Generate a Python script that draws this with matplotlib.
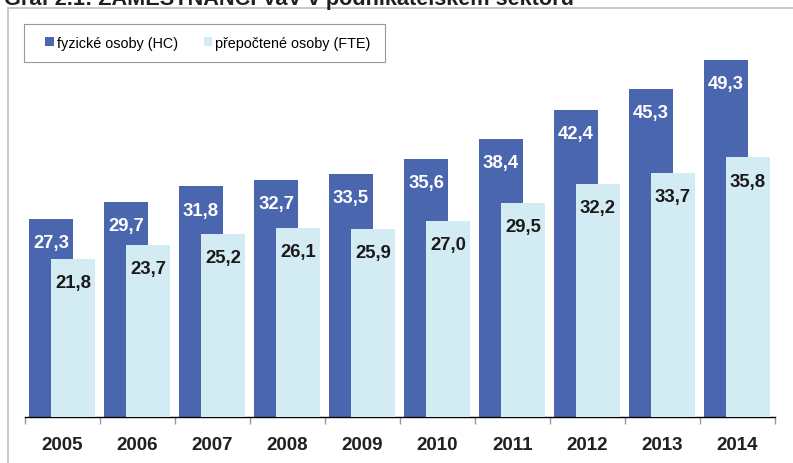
import matplotlib
matplotlib.use("Agg")
import numpy as np
import matplotlib.pyplot as plt
from matplotlib.lines import Line2D
from matplotlib.patches import Rectangle

plt.rcParams["font.family"] = ["Liberation Sans", "DejaVu Sans"]

TITLE = "Graf 2.1: ZAMĚSTNANCI VaV v podnikatelském sektoru"
YEARS = ["2005", "2006", "2007", "2008", "2009", "2010", "2011", "2012", "2013", "2014"]
HC = [27.3, 29.7, 31.8, 32.7, 33.5, 35.6, 38.4, 42.4, 45.3, 49.3]
FTE = [21.8, 23.7, 25.2, 26.1, 25.9, 27.0, 29.5, 32.2, 33.7, 35.8]
HC_LABEL = "fyzické osoby (HC)"
FTE_LABEL = "přepočtené osoby (FTE)"

BLUE = "#4A66AF"
LIGHT = "#D3ECF3"
W, H = 793, 464


def fmt(v):
    return f"{v:.1f}".replace(".", ",")


def main():
    fig = plt.figure(figsize=(W / 100, H / 100), dpi=100)
    ax = fig.add_axes([25 / W, 1 - 418 / H, 750 / W, 377 / H])

    x = np.arange(len(YEARS))
    width = 0.587
    b1 = ax.bar(x - 0.153, HC, width, color=BLUE, label=HC_LABEL, zorder=2)
    b2 = ax.bar(x + 0.14, FTE, width, color=LIGHT, label=FTE_LABEL, zorder=3)

    for rect, v in zip(b1, HC):
        ax.annotate(fmt(v), (rect.get_x() + rect.get_width() / 2, v),
                    xytext=(0, -17), textcoords="offset points",
                    ha="center", va="center", color="white",
                    fontsize=13.3, fontweight="bold", zorder=4)
    for rect, v in zip(b2, FTE):
        ax.annotate(fmt(v), (rect.get_x() + rect.get_width() / 2, v),
                    xytext=(0, -17), textcoords="offset points",
                    ha="center", va="center", color="#1a1a1a",
                    fontsize=13.3, fontweight="bold", zorder=4)

    ax.set_xlim(-0.5, len(YEARS) - 0.5)
    ax.set_ylim(0, 52)
    ax.set_yticks([])
    for s in ["left", "right", "top"]:
        ax.spines[s].set_visible(False)
    ax.spines["bottom"].set_color("black")
    ax.spines["bottom"].set_linewidth(1.0)

    ax.set_xticks(x)
    ax.set_xticklabels(YEARS, fontsize=13.5, fontweight="bold", color="#231f20")
    ax.tick_params(axis="x", which="major", length=0, pad=14)
    ax.set_xticks(np.arange(len(YEARS) + 1) - 0.5, minor=True)
    ax.tick_params(axis="x", which="minor", length=5, color="#999999", width=1)

    # legend box drawn by hand so the padding matches the source
    fig.add_artist(Rectangle((24 / W, 1 - 63 / H), 361 / W, 38 / H,
                             transform=fig.transFigure, fill=False,
                             edgecolor="#999999", lw=0.8))
    ax.legend(loc="center left", bbox_to_anchor=(45 / W, 1 - 44 / H),
              bbox_transform=fig.transFigure, ncol=2, fontsize=10.4,
              frameon=False, handlelength=0.6, handleheight=0.6,
              handletextpad=0.2, columnspacing=1.8, borderpad=0,
              borderaxespad=0)

    # outer chart frame (left and top edges)
    fig.add_artist(Line2D([8 / W, 8 / W], [0, 1 - 9 / H], transform=fig.transFigure,
                          color="#BFBFBF", lw=1.2))
    fig.add_artist(Line2D([8 / W, 1], [1 - 9 / H, 1 - 9 / H], transform=fig.transFigure,
                          color="#BFBFBF", lw=1.2))

    # title, mostly cut off by the top edge as in the source
    fig.text(4 / W, 1 - 4.5 / H, TITLE, fontsize=15.6, fontweight="bold",
             color="#231f20", ha="left", va="baseline")

    fig.savefig("out.png", dpi=100)
    plt.close(fig)


if __name__ == "__main__":
    main()
